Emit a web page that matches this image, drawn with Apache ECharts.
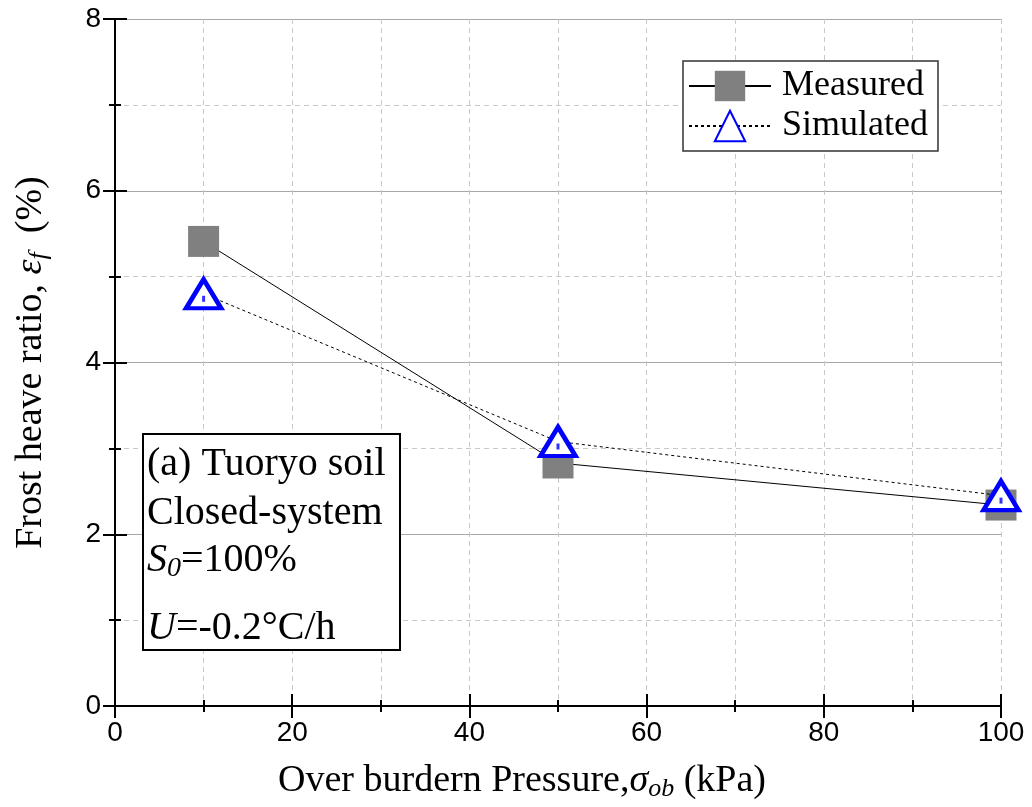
<!DOCTYPE html>
<html>
<head>
<meta charset="utf-8">
<script src="https://cdn.jsdelivr.net/npm/echarts@6/dist/echarts.min.js"></script>
<style>
  html, body { margin: 0; padding: 0; background: #fff; }
  #chart { width: 1032px; height: 807px; }
</style>
</head>
<body>
<div id="chart"></div>
<script>
// pressure (kPa)
var pressure = [10, 50, 100];
// frost heave ratio (%)
var measured = [5.41, 2.83, 2.34];
var simulated = [4.80, 3.08, 2.45];
var xTicks = [0, 20, 40, 60, 80, 100];
var yTicks = [0, 2, 4, 6, 8];

var serif = 'Liberation Serif';
var sans = 'Liberation Sans';

var chart = echarts.init(document.getElementById('chart'));

function pairs(xs, ys) {
  return xs.map(function (x, i) { return [x, ys[i]]; });
}

var tickStyle = { color: '#000', width: 2 };
var baseX = {
  type: 'value', min: xTicks[0], max: xTicks[xTicks.length - 1], interval: 20,
  axisLine: { lineStyle: { color: '#000', width: 2 } },
  axisTick: { inside: true, length: 12, lineStyle: tickStyle },
  minorTick: { show: true, splitNumber: 2, length: 6, lineStyle: tickStyle }
};
var baseY = {
  type: 'value', min: yTicks[0], max: yTicks[yTicks.length - 1], interval: 2,
  axisLine: { lineStyle: { color: '#000', width: 2 } },
  axisTick: { inside: true, length: 12, lineStyle: tickStyle },
  minorTick: { show: true, splitNumber: 2, length: 6, lineStyle: tickStyle }
};

var titleRich = {
  n: { fontFamily: serif, fontSize: 38, color: '#000' },
  i: { fontFamily: serif, fontSize: 38, fontStyle: 'italic', color: '#000' },
  sub: { fontFamily: serif, fontSize: 26, fontStyle: 'italic', color: '#000', verticalAlign: 'bottom', padding: [16, 0, 0, 0] }
};

var noteStyle = { fontFamily: serif, fontSize: 40, fill: '#000' };
var noteRich = {
  i: { fontFamily: serif, fontSize: 40, fontStyle: 'italic' },
  sub: { fontFamily: serif, fontSize: 28, fontStyle: 'italic', verticalAlign: 'bottom', padding: [18, 0, 0, 0] }
};
function noteLine(text, top) {
  return {
    type: 'text', left: 147, top: top, z: 11,
    style: Object.assign({ text: text, rich: noteRich }, noteStyle)
  };
}

var option = {
  backgroundColor: '#fff',
  animation: false,
  grid: { left: 115, right: 31, top: 19, bottom: 101 },
  xAxis: [
    Object.assign({}, baseX, {
      position: 'bottom',
      axisLabel: { fontFamily: sans, fontSize: 28, color: '#000', margin: 13 },
      splitLine: { show: true, lineStyle: { color: '#c8c8c8', type: [5, 4], width: 1 } },
      minorSplitLine: { show: true, lineStyle: { color: '#c8c8c8', type: [5, 4], width: 1 } },
      name: '{n|Over burdern Pressure,}{i|σ}{sub|ob}{n| (kPa)}',
      nameLocation: 'middle',
      nameGap: 54,
      nameTextStyle: { padding: [0, 72, 0, 0], rich: titleRich }
    }),
    Object.assign({}, baseX, {
      position: 'top',
      axisLabel: { show: false },
      splitLine: { show: false }
    })
  ],
  yAxis: [
    Object.assign({}, baseY, {
      position: 'left',
      axisLabel: { fontFamily: sans, fontSize: 28, color: '#000', margin: 14 },
      splitLine: { show: true, lineStyle: { color: '#a8a8a8', width: 1 } },
      minorSplitLine: { show: true, lineStyle: { color: '#c8c8c8', type: [5, 4], width: 1 } },
      name: '{n|Frost heave ratio, }{i|ε}{sub|f}{n|  (%)}',
      nameLocation: 'middle',
      nameGap: 63,
      nameTextStyle: { rich: titleRich }
    }),
    Object.assign({}, baseY, {
      position: 'right',
      axisLabel: { show: false },
      splitLine: { show: false }
    })
  ],
  legend: {
    left: 683, top: 61,
    orient: 'vertical',
    itemWidth: 82, itemHeight: 38, itemGap: 4,
    padding: [7, 10, 7, 5],
    borderColor: '#333', borderWidth: 1.5,
    backgroundColor: '#fff',
    textStyle: { fontFamily: serif, fontSize: 36, color: '#000', padding: [0, 0, 0, 6] },
    data: ['Measured', 'Simulated']
  },
  series: [
    {
      name: 'Measured', type: 'line',
      data: pairs(pressure, measured),
      symbol: 'rect', symbolSize: 31,
      itemStyle: { color: '#808080' },
      lineStyle: { color: '#000', width: 1 },
      z: 2
    },
    {
      name: 'Simulated', type: 'line',
      data: pairs(pressure, simulated),
      symbol: 'triangle', symbolSize: [35, 29],
      itemStyle: { color: '#fff', borderColor: '#0000ff', borderWidth: 4.5 },
      lineStyle: { color: '#000', width: 1, type: [3, 3] },
      z: 3
    },
    {
      // small centre dot inside the hollow triangles
      name: 'SimulatedDot', type: 'scatter',
      data: pairs(pressure, simulated),
      symbol: 'rect', symbolSize: [3, 6], symbolOffset: [0, 5],
      itemStyle: { color: '#0000ff' },
      silent: true,
      z: 4
    }
  ],
  graphic: [
    {
      type: 'rect', left: 142, top: 433, z: 10,
      shape: { width: 257, height: 216 },
      style: { fill: '#fff', stroke: '#000', lineWidth: 2 }
    },
    noteLine('(a) Tuoryo soil', 444),
    noteLine('Closed-system', 493),
    noteLine('{i|S}{sub|0}=100%', 540),
    noteLine('{i|U}=-0.2°C/h', 608)
  ]
};

chart.setOption(option);
</script>
</body>
</html>
